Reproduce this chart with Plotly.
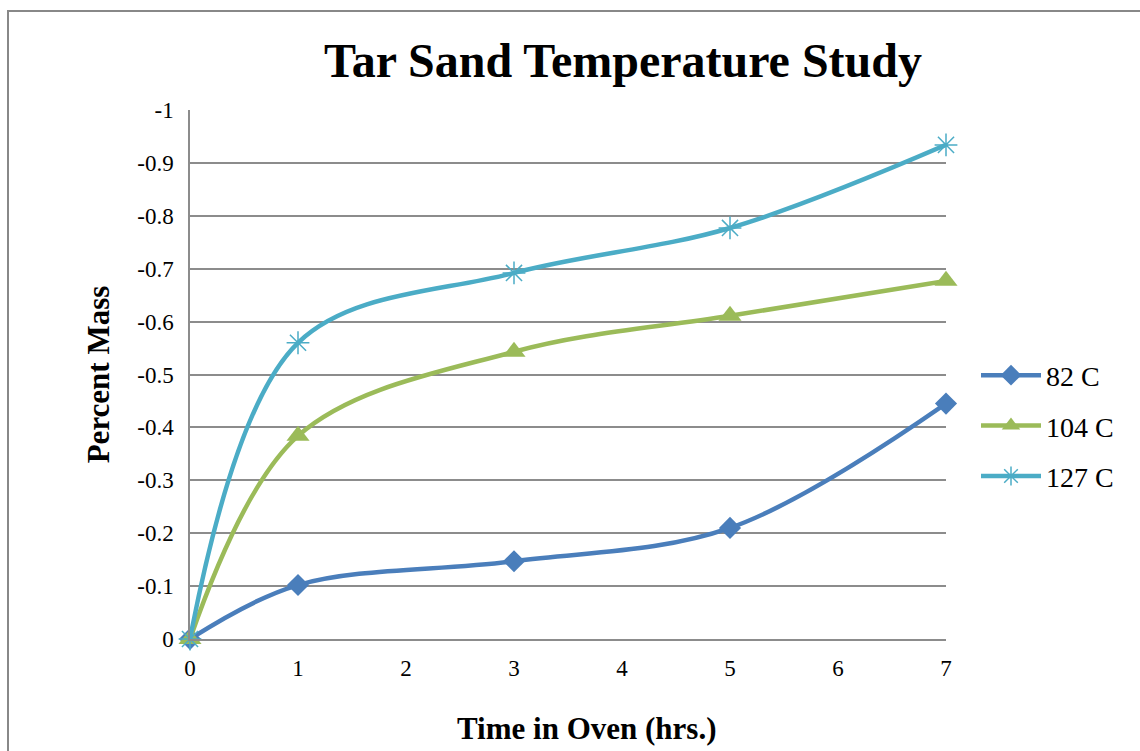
import plotly.graph_objects as go

# Oven time (hours) and percent mass change for each oven temperature
hours = [0, 1, 3, 5, 7]
mass_82c = [0, -0.102, -0.147, -0.21, -0.445]
mass_104c = [0, -0.384, -0.543, -0.611, -0.677]
mass_127c = [0, -0.56, -0.692, -0.777, -0.934]

series_names = ["82 C", "104 C", "127 C"]
series_colors = ["#4a7ebb", "#9bbb59", "#4bacc6"]
series_symbols = ["diamond", "triangle-up", "asterisk-open"]
series_marker_sizes = [17, 20, 19]

y_tick_vals = [0, -0.1, -0.2, -0.3, -0.4, -0.5, -0.6, -0.7, -0.8, -0.9, -1]
y_tick_text = ["0", "-0.1", "-0.2", "-0.3", "-0.4", "-0.5", "-0.6", "-0.7", "-0.8", "-0.9", "-1"]
x_tick_vals = [0, 1, 2, 3, 4, 5, 6, 7]

FONT = "Liberation Serif, Times New Roman, serif"
GRID = "#8c8c8c"

fig = go.Figure()
for name, ys, color, symbol, msize in zip(series_names, [mass_82c, mass_104c, mass_127c],
                                          series_colors, series_symbols, series_marker_sizes):
    marker = dict(symbol=symbol, size=msize, color=color)
    if symbol == "asterisk-open":
        marker.update(line=dict(color=color, width=1.5))
    fig.add_trace(go.Scatter(
        x=hours, y=ys, name=name, legendgroup=name,
        mode="lines+markers", cliponaxis=False,
        line=dict(color=color, width=4.5, shape="spline", smoothing=1.0),
        marker=marker,
    ))

pl, pr, pt, pb = 190, 946, 110, 639
W, H = 1140, 751

fig.update_layout(
    width=W, height=H,
    margin=dict(l=pl, r=W - pr, t=pt, b=H - pb, autoexpand=False),
    paper_bgcolor="white", plot_bgcolor="white",
    font=dict(family=FONT, size=22, color="black"),
    title=dict(text="<b>Tar Sand Temperature Study</b>", x=623 / W, xanchor="center",
               y=1 - 60 / H, yanchor="middle", font=dict(size=48, family=FONT)),
    xaxis=dict(range=[0, 7], tickvals=x_tick_vals, showgrid=False, zeroline=False,
               showline=True, linecolor=GRID, linewidth=1.5, ticks="",
               ticklabelstandoff=8, tickfont=dict(size=23)),
    yaxis=dict(range=[0, -1], tickvals=y_tick_vals, ticktext=y_tick_text,
               showgrid=True, gridcolor=GRID, gridwidth=1.5, zeroline=False,
               showline=True, linecolor=GRID, linewidth=1.5, ticks="",
               ticklabelstandoff=10, tickfont=dict(size=23),
               title=dict(text="<b>Percent Mass</b>", standoff=18,
                          font=dict(size=31, family=FONT))),
    legend=dict(x=(976 - pl) / (pr - pl), xanchor="left",
                y=(pb - 426) / (pb - pt), yanchor="middle",
                font=dict(size=28, family=FONT), tracegroupgap=11, itemwidth=60,
                bgcolor="rgba(0,0,0,0)"),
    annotations=[dict(text="<b>Time in Oven (hrs.)</b>", xref="paper", yref="paper",
                      x=(587 - pl) / (pr - pl), y=(pb - 728) / (pb - pt),
                      xanchor="center", yanchor="middle", showarrow=False,
                      font=dict(size=31, family=FONT))],
    shapes=[dict(type="rect", xref="paper", yref="paper",
                 x0=(8 - pl) / (pr - pl), x1=1.5,
                 y0=-0.5, y1=(pb - 11) / (pb - pt),
                 line=dict(color="#888888", width=2), layer="below")],
)

fig.write_html("out.html")
